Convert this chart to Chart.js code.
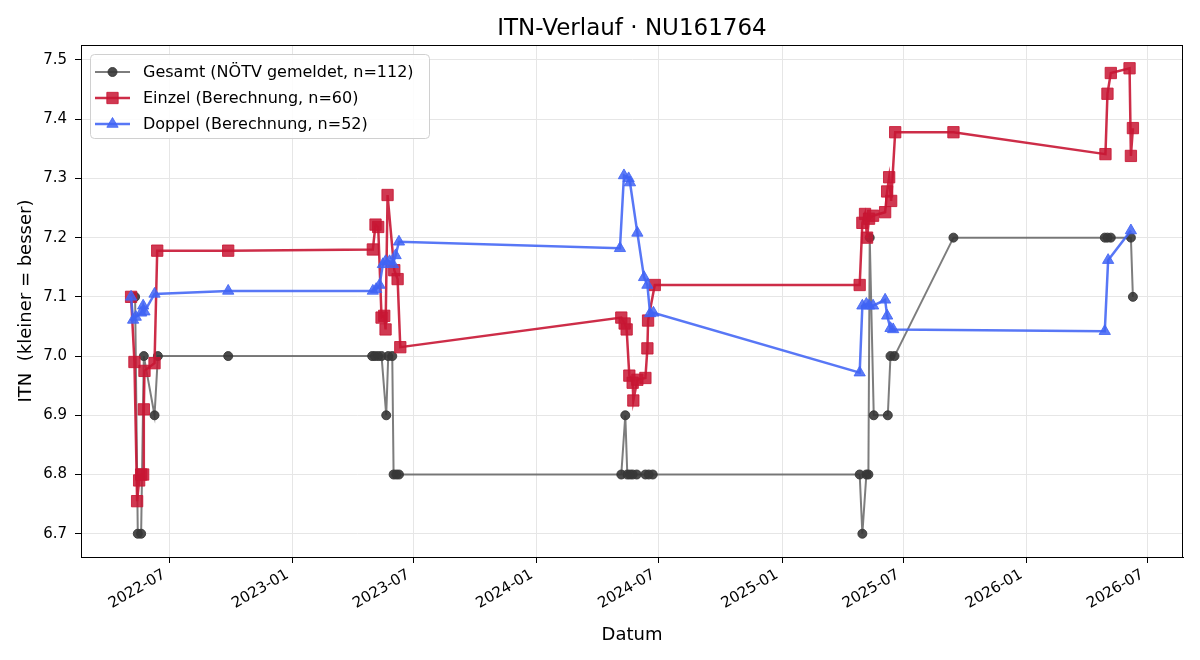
<!DOCTYPE html>
<html lang="de">
<head>
  <meta charset="UTF-8" />
  <title>ITN-Verlauf · NU161764</title>
  <script src="https://cdn.jsdelivr.net/npm/chart.js"></script>
  <style>
    html, body { margin: 0; padding: 0; background: #fff; }
    #wrap { width: 1200px; height: 660px; }
  </style>
</head>
<body>
  <div id="wrap"><canvas id="itnChart" width="1200" height="660"></canvas></div>

  <script>
    // --- Daten ---
    const gesamtDates = [
      '2022-05-11', '2022-05-15', '2022-05-20', '2022-05-24', '2022-06-09', '2022-06-14', '2022-09-27',
      '2023-04-30', '2023-05-04', '2023-05-09', '2023-05-14', '2023-05-21', '2023-05-24', '2023-05-30',
      '2023-06-01', '2023-06-05', '2023-06-09',
      '2024-05-06', '2024-05-12', '2024-05-15', '2024-05-19', '2024-05-23', '2024-05-29', '2024-06-11',
      '2024-06-16', '2024-06-22',
      '2025-04-27', '2025-05-01', '2025-05-07', '2025-05-10', '2025-05-12', '2025-05-18', '2025-06-08',
      '2025-06-12', '2025-06-18', '2025-09-14',
      '2026-04-28', '2026-05-02', '2026-05-07', '2026-06-06', '2026-06-09'
    ];
    const gesamtValues = [
      7.1, 6.7, 6.7, 7.0, 6.9, 7.0, 7.0,
      7.0, 7.0, 7.0, 7.0, 6.9, 7.0, 7.0,
      6.8, 6.8, 6.8,
      6.8, 6.9, 6.8, 6.8, 6.8, 6.8, 6.8,
      6.8, 6.8,
      6.8, 6.7, 6.8, 6.8, 7.2, 6.9, 6.9,
      7.0, 7.0, 7.2,
      7.2, 7.2, 7.2, 7.2, 7.1
    ];

    const einzelDates = [
      '2022-05-05', '2022-05-10', '2022-05-14', '2022-05-17', '2022-05-20', '2022-05-23', '2022-05-24',
      '2022-05-25', '2022-06-09', '2022-06-13', '2022-09-27',
      '2023-05-01', '2023-05-05', '2023-05-09', '2023-05-14', '2023-05-18', '2023-05-20', '2023-05-23',
      '2023-06-02', '2023-06-07', '2023-06-11',
      '2024-05-06', '2024-05-11', '2024-05-14', '2024-05-18', '2024-05-23', '2024-05-24', '2024-05-30',
      '2024-06-11', '2024-06-14', '2024-06-15', '2024-06-25',
      '2025-04-27', '2025-05-01', '2025-05-05', '2025-05-08', '2025-05-11', '2025-05-17', '2025-06-04',
      '2025-06-07', '2025-06-10', '2025-06-13', '2025-06-19', '2025-09-14',
      '2026-04-29', '2026-05-02', '2026-05-07', '2026-06-04', '2026-06-06', '2026-06-09'
    ];
    const einzelValues = [
      7.10, 6.99, 6.755, 6.79, 6.80, 6.80, 6.91,
      6.975, 6.988, 7.178, 7.178,
      7.18, 7.222, 7.218, 7.065, 7.068, 7.045, 7.272,
      7.145, 7.13, 7.015,
      7.065, 7.055, 7.045, 6.967, 6.955, 6.925, 6.96,
      6.963, 7.013, 7.06, 7.12,
      7.12, 7.225, 7.24, 7.20, 7.232, 7.237, 7.243,
      7.278, 7.302, 7.262, 7.378, 7.378,
      7.341, 7.443, 7.478, 7.486, 7.338, 7.385
    ];

    const doppelDates = [
      '2022-05-05', '2022-05-08', '2022-05-12', '2022-05-20', '2022-05-23', '2022-05-25', '2022-06-09',
      '2022-09-27',
      '2023-05-01', '2023-05-06', '2023-05-11', '2023-05-16', '2023-05-20', '2023-05-26', '2023-05-31',
      '2023-06-04', '2023-06-09',
      '2024-05-04', '2024-05-10', '2024-05-17', '2024-05-19', '2024-05-30', '2024-06-09', '2024-06-14',
      '2024-06-18', '2024-06-23',
      '2025-04-27', '2025-05-01', '2025-05-07', '2025-05-11', '2025-05-17', '2025-06-04', '2025-06-07',
      '2025-06-12', '2025-06-16',
      '2026-04-28', '2026-05-03', '2026-06-06'
    ];
    const doppelValues = [
      7.10, 7.061, 7.066, 7.073, 7.085, 7.075, 7.105,
      7.11,
      7.11, 7.113, 7.12, 7.155, 7.16, 7.16, 7.155,
      7.17, 7.193,
      7.182, 7.305, 7.30, 7.293, 7.208, 7.133, 7.12,
      7.072, 7.073,
      6.972, 7.085, 7.088, 7.085, 7.085, 7.095, 7.068,
      7.047, 7.045,
      7.042, 7.162, 7.212
    ];

    const seriesLabels = [
      'Gesamt (NÖTV gemeldet, n=112)',
      'Einzel (Berechnung, n=60)',
      'Doppel (Berechnung, n=52)'
    ];
    const xTickLabels = ['2022-07', '2023-01', '2023-07', '2024-01', '2024-07', '2025-01', '2025-07', '2026-01', '2026-07'];
    const yTicks = [6.7, 6.8, 6.9, 7.0, 7.1, 7.2, 7.3, 7.4, 7.5];

    const FONT = "'DejaVu Sans', 'Liberation Sans', sans-serif";

    function toMs(s) {
      const p = s.split('-').map(Number);
      return Date.UTC(p[0], p[1] - 1, p[2] || 1);
    }
    function points(dates, values) {
      return dates.map((d, i) => ({ x: toMs(d), y: values[i] }));
    }

    // matplotlib-artige Ränder (5 %)
    const allX = [...gesamtDates, ...einzelDates, ...doppelDates].map(toMs);
    const allY = [...gesamtValues, ...einzelValues, ...doppelValues];
    const xMin = Math.min(...allX), xMax = Math.max(...allX);
    const yMin = Math.min(...allY), yMax = Math.max(...allY);
    const xPad = (xMax - xMin) * 0.05, yPad = (yMax - yMin) * 0.05;

    const styles = [
      { line: 'rgba(70,70,70,0.7)', point: 'rgba(55,55,55,0.9)', width: 2, style: 'circle', radius: 4.5 },
      { line: 'rgba(200,22,52,0.9)', point: 'rgba(200,22,52,0.85)', width: 2.5, style: 'rect', radius: 8 },
      { line: 'rgba(65,100,245,0.88)', point: 'rgba(65,100,245,0.85)', width: 2.5, style: 'triangle', radius: 6.5 }
    ];

    const seriesData = [
      points(gesamtDates, gesamtValues),
      points(einzelDates, einzelValues),
      points(doppelDates, doppelValues)
    ];

    const datasets = seriesData.map((data, i) => ({
      label: seriesLabels[i],
      data: data,
      borderColor: styles[i].line,
      borderWidth: styles[i].width,
      backgroundColor: styles[i].point,
      pointBackgroundColor: styles[i].point,
      pointBorderColor: styles[i].point,
      pointBorderWidth: 1,
      pointStyle: styles[i].style,
      pointRadius: styles[i].radius,
      tension: 0,
      fill: false,
      order: 3 - i
    }));

    // Rahmen, Titel, schräge Datumsbeschriftung und Legende im Stil von matplotlib
    const decor = {
      id: 'decor',
      afterDatasetsDraw(chart) {
        const ctx = chart.ctx;
        const a = chart.chartArea;
        const xs = chart.scales.x;
        ctx.save();
        ctx.strokeStyle = '#000';
        ctx.lineWidth = 1;
        ctx.strokeRect(a.left + 0.5, a.top + 0.5, a.right - a.left - 1, a.bottom - a.top);

        // Titel
        ctx.fillStyle = '#000';
        ctx.font = '23px ' + FONT;
        ctx.textAlign = 'center';
        ctx.textBaseline = 'middle';
        ctx.fillText('ITN-Verlauf · NU161764', (a.left + a.right) / 2, 29);

        // x-Beschriftung, 30° gedreht, rechts oben am Tick
        ctx.font = '15px ' + FONT;
        ctx.textAlign = 'right';
        ctx.textBaseline = 'top';
        const lh = 17.5;
        xTickLabels.forEach(l => {
          const px = xs.getPixelForValue(toMs(l));
          ctx.save();
          ctx.translate(px - lh / 2, a.bottom + 10);
          ctx.rotate(-Math.PI / 6);
          ctx.fillText(l, 0, 0);
          ctx.restore();
        });

        // Legende
        const bx = a.left + 9, by = a.top + 9, bw = 339, bh = 84;
        ctx.fillStyle = 'rgba(255,255,255,0.85)';
        ctx.strokeStyle = '#d0d0d0';
        ctx.lineWidth = 1;
        ctx.beginPath();
        ctx.roundRect(bx + 0.5, by + 0.5, bw, bh, 4);
        ctx.fill();
        ctx.stroke();
        ctx.font = '16px ' + FONT;
        ctx.textAlign = 'left';
        ctx.textBaseline = 'middle';
        chart.data.datasets.forEach((ds, i) => {
          const y = by + 18 + i * 26;
          ctx.strokeStyle = ds.borderColor;
          ctx.lineWidth = ds.borderWidth;
          ctx.beginPath();
          ctx.moveTo(bx + 5, y);
          ctx.lineTo(bx + 40, y);
          ctx.stroke();
          ctx.fillStyle = ds.pointBackgroundColor;
          ctx.strokeStyle = ds.pointBorderColor;
          ctx.lineWidth = 1;
          Chart.helpers.drawPoint(ctx, {
            pointStyle: ds.pointStyle,
            radius: ds.pointRadius,
            borderWidth: 1,
            rotation: 0
          }, bx + 22.5, y);
          ctx.fillStyle = '#000';
          ctx.fillText(ds.label, bx + 53, y + 1);
        });
        ctx.restore();
      }
    };

    new Chart(document.getElementById('itnChart'), {
      type: 'line',
      data: { datasets },
      plugins: [decor],
      options: {
        responsive: false,
        animation: false,
        devicePixelRatio: 1,
        parsing: false,
        layout: { padding: { top: 45, right: 17, left: 0, bottom: 0 } },
        plugins: {
          legend: { display: false },
          title: { display: false },
          tooltip: { enabled: false }
        },
        scales: {
          x: {
            type: 'linear',
            min: xMin - xPad,
            max: xMax + xPad,
            afterBuildTicks: s => { s.ticks = xTickLabels.map(l => ({ value: toMs(l) })); },
            afterFit: s => { s.height = 103; },
            ticks: { display: false, autoSkip: false },
            grid: { color: '#e6e6e6', tickColor: '#000', tickLength: 6, drawTicks: true },
            border: { color: '#000' },
            title: { display: true, text: 'Datum', color: '#000', font: { family: FONT, size: 18 }, padding: { top: 0, bottom: 14 } }
          },
          y: {
            type: 'linear',
            min: yMin - yPad,
            max: yMax + yPad,
            afterBuildTicks: s => { s.ticks = yTicks.map(v => ({ value: v })); },
            afterFit: s => { s.width = 81; },
            ticks: {
              padding: 8,
              color: '#000',
              font: { family: FONT, size: 15 },
              callback: v => Number(v).toFixed(1)
            },
            grid: { color: '#e6e6e6', tickColor: '#000', tickLength: 6, drawTicks: true },
            border: { color: '#000' },
            title: { display: true, text: 'ITN  (kleiner = besser)', color: '#000', font: { family: FONT, size: 18 }, padding: { top: 16, bottom: 0 } }
          }
        }
      }
    });
  </script>
</body>
</html>
